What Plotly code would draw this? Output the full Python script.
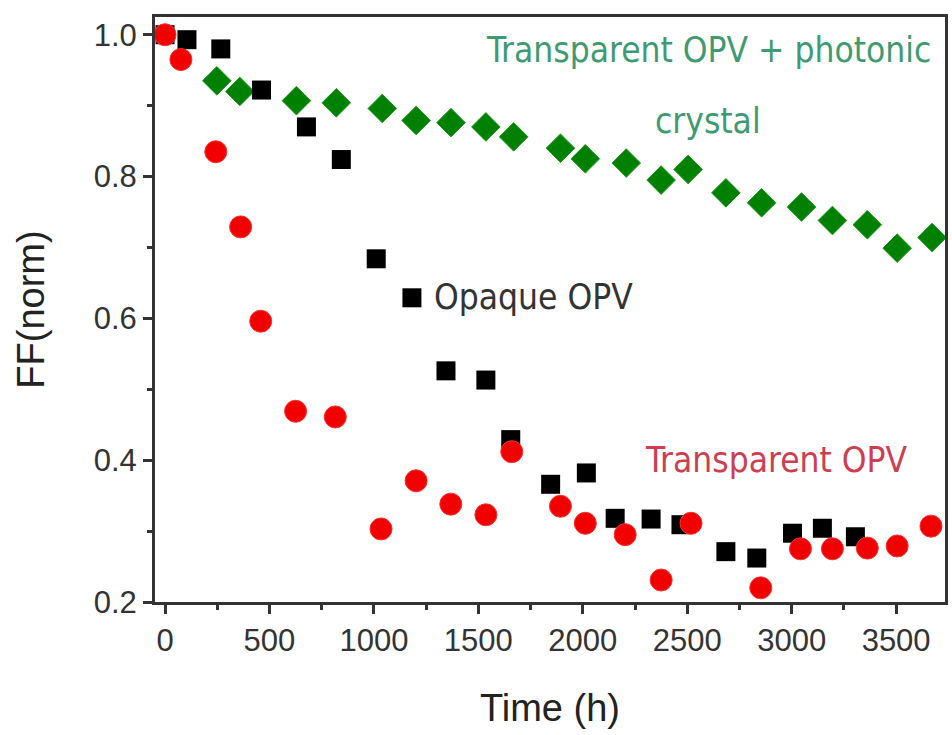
import plotly.graph_objects as go

# Opaque OPV (black squares)
opaque_t = [0, 105, 267, 462, 677, 844, 1011, 1182, 1345, 1536, 1655, 1846, 2017,
            2155, 2327, 2470, 2685, 2833, 3004, 3147, 3305]
opaque_ff = [1.0, 0.993, 0.980, 0.922, 0.870, 0.824, 0.684, 0.629, 0.526, 0.513, 0.429,
             0.366, 0.382, 0.318, 0.317, 0.309, 0.271, 0.262, 0.297, 0.304, 0.292]

# Transparent OPV (red circles)
transp_t = [0, 76, 243, 362, 458, 625, 815, 1034, 1202, 1368, 1536, 1660, 1893, 2012,
            2203, 2375, 2518, 2852, 3042, 3195, 3362, 3505, 3667]
transp_ff = [1.0, 0.965, 0.835, 0.729, 0.596, 0.469, 0.461, 0.303, 0.371, 0.338, 0.323,
             0.412, 0.335, 0.311, 0.295, 0.231, 0.311, 0.220, 0.275, 0.275, 0.276,
             0.279, 0.307]

# Transparent OPV + photonic crystal (green diamonds)
pc_t = [248, 358, 629, 820, 1040, 1202, 1369, 1536, 1669, 1893, 2012, 2208, 2375,
        2504, 2685, 2856, 3047, 3195, 3362, 3505, 3672]
pc_ff = [0.935, 0.920, 0.907, 0.904, 0.896, 0.879, 0.876, 0.870, 0.856, 0.840,
         0.825, 0.819, 0.795, 0.810, 0.777, 0.763, 0.757, 0.738, 0.732, 0.699, 0.714]

x_ticks = [0, 500, 1000, 1500, 2000, 2500, 3000, 3500]
y_ticks = [0.2, 0.4, 0.6, 0.8, 1.0]

NARROW = "Liberation Sans Narrow, DejaVu Sans Condensed, Arial Narrow, Liberation Sans, Arial, sans-serif"
LABEL_FONT = "Liberation Sans Narrow, Arial Narrow, Liberation Sans, Arial, sans-serif"

fig = go.Figure()
fig.add_trace(go.Scatter(x=pc_t, y=pc_ff, mode="markers", name="Transparent OPV + photonic crystal",
                         marker=dict(symbol="diamond", size=22, color="#008000",
                                     line=dict(width=1, color="#1a9a1a"))))
fig.add_trace(go.Scatter(x=opaque_t, y=opaque_ff, mode="markers", name="Opaque OPV",
                         marker=dict(symbol="square", size=19, color="#000000",
                                     line=dict(width=0))))
fig.add_trace(go.Scatter(x=transp_t, y=transp_ff, mode="markers", name="Transparent OPV",
                         marker=dict(symbol="circle", size=22, color="#f00000",
                                     line=dict(width=1, color="#ff3030"))))

axis_common = dict(
    showline=True, linecolor="#333333", linewidth=3, mirror=True,
    ticks="outside", ticklen=9, tickwidth=2.5, tickcolor="#333333",
    showgrid=False, zeroline=False,
    tickfont=dict(family=LABEL_FONT, size=31, color="#333333"),
)

fig.update_xaxes(
    range=[-48, 3734], tickvals=x_ticks, ticktext=[str(v) for v in x_ticks],
    minor=dict(ticks="outside", ticklen=5, tickwidth=2.5, tickcolor="#333333", dtick=250, tick0=0),
    title=dict(text="Time (h)", font=dict(family=LABEL_FONT, size=38, color="#222222"), standoff=38),
    **axis_common,
)
fig.update_yaxes(
    range=[0.2, 1.025], tickvals=y_ticks, ticktext=[f"{v:.1f}" for v in y_ticks],
    minor=dict(ticks="outside", ticklen=5, tickwidth=2.5, tickcolor="#333333", dtick=0.1, tick0=0.2),
    title=dict(text="FF(norm)", font=dict(family=LABEL_FONT, size=38, color="#222222"), standoff=38),
    **axis_common,
)

fig.add_annotation(x=0.985, y=0.978, xref="paper", yref="y", xanchor="right", yanchor="middle",
                   text="Transparent OPV + photonic", showarrow=False,
                   font=dict(family=NARROW, size=35, color="#3f9a72"))
fig.add_annotation(x=2600, y=0.878, xref="x", yref="y", xanchor="center", yanchor="middle",
                   text="crystal", showarrow=False,
                   font=dict(family=NARROW, size=35, color="#3f9a72"))
fig.add_annotation(x=1280, y=0.630, xref="x", yref="y", xanchor="left", yanchor="middle",
                   text="Opaque OPV", showarrow=False,
                   font=dict(family=NARROW, size=35, color="#333333"))
fig.add_annotation(x=2290, y=0.400, xref="x", yref="y", xanchor="left", yanchor="middle",
                   text="Transparent OPV", showarrow=False,
                   font=dict(family=NARROW, size=35, color="#cc3f52"))

fig.update_layout(
    width=952, height=735,
    margin=dict(l=155, r=4, t=17, b=133),
    paper_bgcolor="white", plot_bgcolor="white",
    showlegend=False,
)

fig.write_html("out.html")
